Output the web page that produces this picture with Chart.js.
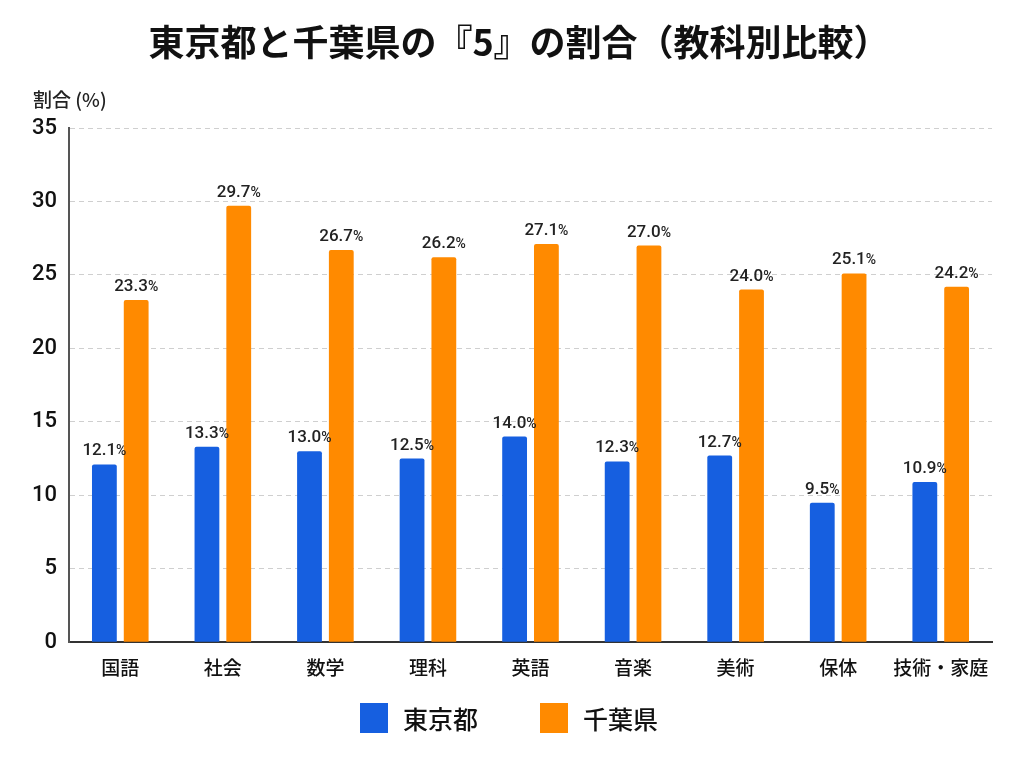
<!DOCTYPE html>
<html>
<head>
<meta charset="utf-8">
<script src="https://cdn.jsdelivr.net/npm/chart.js@4/dist/chart.umd.min.js"></script>
<style>
  html, body { margin: 0; padding: 0; background: #fff; }
  #wrap { width: 1024px; height: 774px; }
</style>
</head>
<body>
<div id="wrap"><canvas id="chart"></canvas></div>
<script>
// Data
const subjects = ["国語", "社会", "数学", "理科", "英語", "音楽", "美術", "保体", "技術・家庭"];
const tokyoValues = [12.1, 13.3, 13.0, 12.5, 14.0, 12.3, 12.7, 9.5, 10.9];
const chibaValues = [23.3, 29.7, 26.7, 26.2, 27.1, 27.0, 24.0, 25.1, 24.2];
const yTicks = [0, 5, 10, 15, 20, 25, 30, 35];
const chartTitle = "東京都と千葉県の『5』の割合（教科別比較）";

const FONT = "'Noto Sans CJK JP', 'Noto Sans', sans-serif";
const NUM_FONT = "Roboto, 'Noto Sans CJK JP', sans-serif";
const BLUE = "#165fe0";
const ORANGE = "#ff8a00";

// Draws "12.1%" above each bar, with a smaller percent sign
const valueLabels = {
    id: "valueLabels",
    afterDatasetsDraw(chart) {
        const ctx = chart.ctx;
        ctx.save();
        ctx.fillStyle = "#222";
        ctx.textBaseline = "alphabetic";
        chart.data.datasets.forEach((ds, i) => {
            const meta = chart.getDatasetMeta(i);
            meta.data.forEach((bar, j) => {
                const num = ds.data[j].toFixed(1);
                ctx.font = "500 17px " + NUM_FONT;
                const w1 = ctx.measureText(num).width;
                ctx.font = "500 14px " + NUM_FONT;
                const w2 = ctx.measureText("%").width;
                const x0 = bar.x - (w1 + w2) / 2;
                const y = bar.y - 9;
                ctx.textAlign = "left";
                ctx.font = "500 17px " + NUM_FONT;
                ctx.fillText(num, x0, y);
                ctx.font = "500 14px " + NUM_FONT;
                ctx.fillText("%", x0 + w1, y);
            });
        });
        ctx.restore();
    }
};

// Title, axis caption at top-left and the legend under the chart
const extras = {
    id: "extras",
    afterDraw(chart) {
        const ctx = chart.ctx;
        ctx.save();
        ctx.fillStyle = "#111";
        ctx.font = "bold 36px " + FONT;
        ctx.textAlign = "center";
        ctx.textBaseline = "middle";
        ctx.fillText(chartTitle, 519, 42);

        ctx.fillStyle = "#222";
        ctx.font = "500 19px " + FONT;
        ctx.textAlign = "left";
        ctx.fillText("割合 (%)", 33, 100);

        // legend
        const items = [
            { text: chart.data.datasets[0].label, color: BLUE, x: 360 },
            { text: chart.data.datasets[1].label, color: ORANGE, x: 540 }
        ];
        items.forEach(it => {
            ctx.fillStyle = it.color;
            ctx.fillRect(it.x, 703, 28, 30);
            ctx.fillStyle = "#111";
            ctx.font = "500 25px " + FONT;
            ctx.fillText(it.text, it.x + 43, 719);
        });
        ctx.restore();
    }
};

const ctx = document.getElementById("chart").getContext("2d");
new Chart(ctx, {
    type: "bar",
    data: {
        labels: subjects,
        datasets: [
            {
                label: "東京都",
                data: tokyoValues,
                backgroundColor: BLUE,
                borderRadius: { topLeft: 2, topRight: 2 },
                borderSkipped: "bottom"
            },
            {
                label: "千葉県",
                data: chibaValues,
                backgroundColor: ORANGE,
                borderRadius: { topLeft: 2, topRight: 2 },
                borderSkipped: "bottom"
            }
        ]
    },
    options: {
        responsive: true,
        maintainAspectRatio: false,
        animation: false,
        categoryPercentage: 0.62,
        barPercentage: 0.78,
        layout: {
            padding: { left: 20, right: 32, top: 128, bottom: 89 }
        },
        plugins: {
            title: { display: false },
            legend: { display: false },
            tooltip: { enabled: false }
        },
        scales: {
            x: {
                grid: { display: false },
                border: { display: true, color: "#333", width: 2 },
                ticks: {
                    color: "#111",
                    font: { family: FONT, size: 19, weight: "500" },
                    padding: 6,
                    maxRotation: 0,
                    minRotation: 0,
                    autoSkip: false
                }
            },
            y: {
                min: 0,
                max: 35,
                afterBuildTicks(scale) {
                    scale.ticks = yTicks.map(v => ({ value: v }));
                },
                grid: {
                    color: "#cfcfcf",
                    lineWidth: 1,
                    drawTicks: false
                },
                border: { display: true, color: "#555", width: 2, dash: [5, 4] },
                ticks: {
                    color: "#111",
                    font: { family: NUM_FONT, size: 22, weight: "500" },
                    padding: 12
                }
            }
        }
    },
    plugins: [valueLabels, extras]
});
</script>
</body>
</html>
